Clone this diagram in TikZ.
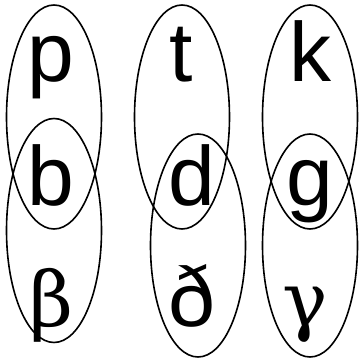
\documentclass[tikz,border=0pt]{standalone}
\usepackage{fontspec}
\setmainfont{Liberation Sans}
\newfontfamily\greekfont{DejaVu Serif}
\usetikzlibrary{shapes.geometric}

\begin{document}
\begin{tikzpicture}[
  x=1pt, y=-1pt,
  phone/.style={anchor=base, inner sep=0pt, font=\fontsize{84}{84}\selectfont},
  greek/.style={anchor=base, inner sep=0pt, font=\fontsize{76}{76}\greekfont},
  group/.style={draw, ellipse, inner sep=0pt, line width=1.6pt,
                minimum width=95pt, minimum height=224pt}
]
  \useasboundingbox (0,0) rectangle (362,361);

  % Voiceless row
  \node[phone] (p) at (51, 82) {p};
  \node[phone] (t) at (181, 82) {t};
  \node[phone] (k) at (310, 82) {k};

  % Voiced stops
  \node[phone] (b) at (51, 205) {b};
  \node[phone] (d) at (192, 205) {d};
  \node[phone] (g) at (310, 205) {g};

  % Fricatives
  \node[greek] (beta) at (51, 326) {β};
  \node[phone] (eth) at (192, 326) {ð};
  \node[greek] (gamma) at (305, 326) {γ};

  % Groupings
  \node[group] (pb) at (54, 117) {};
  \node[group] (bbeta) at (54, 230.5) {};
  \node[group] (td) at (182, 117) {};
  \node[group, minimum height=223pt] (deth) at (198, 245.5) {};
  \node[group] (kg) at (310, 117) {};
  \node[group, minimum height=223pt] (ggamma) at (310, 245.5) {};
\end{tikzpicture}
\end{document}
